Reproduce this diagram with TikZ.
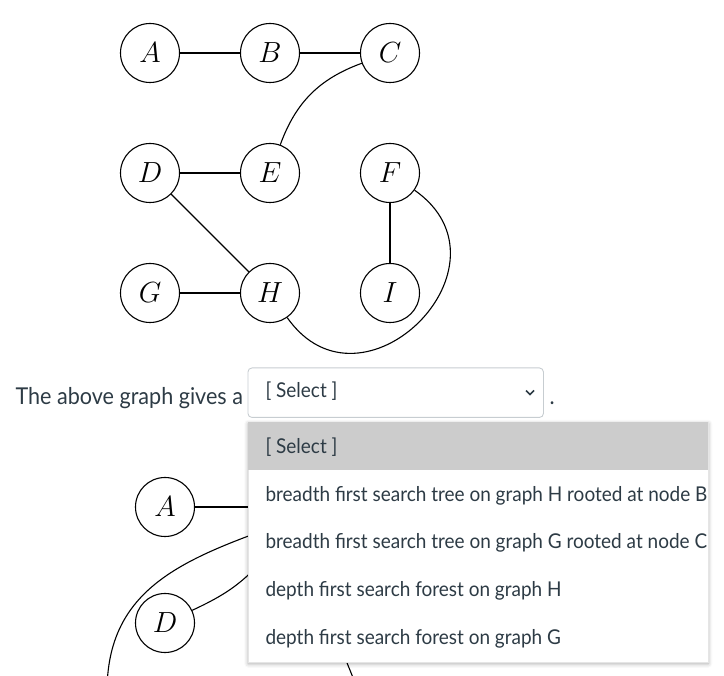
\documentclass[tikz,border=0pt]{standalone}
\usepackage{fontspec}
\setmainfont[FakeStretch=0.93]{Lato}
\usetikzlibrary{shadows.blur}
\definecolor{inktext}{HTML}{2D3B45}
\definecolor{boxline}{HTML}{C7CDD1}
\definecolor{pickgray}{HTML}{CCCCCC}
\newcommand{\vtx}[1]{\scalebox{1.17}{$#1$}}

\begin{document}
\begin{tikzpicture}[x=1pt,y=1pt,line width=1.1pt,
  vertex/.style={circle,draw,line width=1.1pt,minimum size=59pt,inner sep=0pt,font=\Huge},
  plain/.style={anchor=base west,inner sep=0pt,text=inktext,font=\fontsize{23.2}{27}\selectfont},
  item/.style={anchor=base west,inner sep=0pt,text=inktext,font=\fontsize{20.4}{24}\selectfont}]
\useasboundingbox (0,0) rectangle (724,-676);
\clip (0,0) rectangle (724,-676);
% upper graph
\node[vertex] (A) at (150,-53)  {\vtx{A}};
\node[vertex] (B) at (270,-53)  {\vtx{B}};
\node[vertex] (C) at (390,-53)  {\vtx{C}};
\node[vertex] (D) at (150,-173) {\vtx{D}};
\node[vertex] (E) at (270,-173) {\vtx{E}};
\node[vertex] (F) at (390,-173) {\vtx{F}};
\node[vertex] (G) at (150,-293) {\vtx{G}};
\node[vertex] (H) at (270,-293) {\vtx{H}};
\node[vertex] (I) at (390,-293) {\vtx{I}};
\draw (A) -- (B);
\draw (B) -- (C);
\draw (C) to[bend right=25] (E);
\draw (D) -- (E);
\draw (D) -- (H);
\draw (G) -- (H);
\draw (F) -- (I);
\draw (F) to[out=-35,in=-55,looseness=1.85] (H);
% question line
\node[plain] (q) at (15,-405) {The above graph gives a};
\node[draw=boxline,line width=0.9pt,rounded corners=4pt,anchor=north west,
  minimum width=295.5pt,minimum height=49.5pt] (sel) at (247.5,-367.5) {};
\node[item] (seltxt) at (265,-398) {[ Select ]};
\coordinate (v1) at (526,-390.5);
\coordinate (v2) at (530,-394.5);
\coordinate (v3) at (534,-390.5);
\draw[inktext,line width=1.5pt] (v1) -- (v2) -- (v3);
\node[plain] (dot) at (549,-405) {.};
% lower graph (partly hidden)
\node[vertex] (A2) at (165,-507) {\vtx{A}};
\node[vertex] (D2) at (165,-623) {\vtx{D}};
\coordinate (B2) at (285,-507);
\coordinate (P2) at (262,-531);
\coordinate (G2) at (107,-692);
\coordinate (E2) at (266,-556);
\coordinate (K2) at (341,-648);
\coordinate (L2) at (358,-690);
\draw (A2) -- (B2);
\draw (P2) to[out=200,in=90,looseness=1.1] (G2);
\draw (D2) to[out=25,in=230] (E2);
\draw (K2) -- (L2);
% dropdown list
\node[fill=white,draw=black!10,line width=0.5pt,anchor=north west,
  minimum width=460pt,minimum height=240pt,
  blur shadow={shadow xshift=0pt,shadow yshift=-1.5pt,shadow blur radius=4pt,shadow opacity=35}]
  (list) at (248,-422) {};
\fill[pickgray] (248,-422) rectangle (708,-470.5);
\foreach \txt [count=\i from 0] in {{[ Select ]},
  {breadth first search tree on graph H rooted at node B},
  {breadth first search tree on graph G rooted at node C},
  {depth first search forest on graph H},
  {depth first search forest on graph G}}{
  \node[item] (opt\i) at (265,-453.5-47.7*\i) {\txt};
}
\end{tikzpicture}
\end{document}
